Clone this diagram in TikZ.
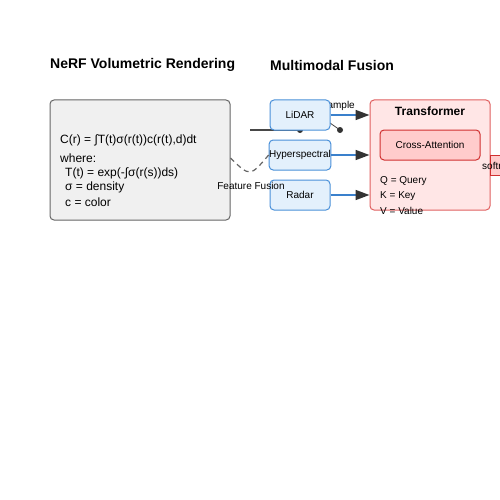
\documentclass[tikz,border=0pt]{standalone}
\usepackage{fontspec}
\setmainfont{Liberation Sans}
\usetikzlibrary{arrows.meta}
\definecolor{nerffill}{HTML}{F0F0F0}
\definecolor{nerfdraw}{HTML}{666666}
\definecolor{modfill}{HTML}{E3F0FC}
\definecolor{moddraw}{HTML}{4A90D9}
\definecolor{arrline}{HTML}{3A80CC}
\definecolor{tipcol}{HTML}{333333}
\definecolor{trfill}{HTML}{FFE6E6}
\definecolor{trdraw}{HTML}{E06060}
\definecolor{cafill}{HTML}{FFCCCC}
\definecolor{cadraw}{HTML}{D03030}
\tikzset{
  px/.style={x=1pt,y=-1pt},
  modbox/.style={draw=moddraw,fill=modfill,line width=1pt,rounded corners=4pt,minimum width=60pt,minimum height=30pt,inner sep=0pt,font=\fontsize{10}{12}\selectfont},
  flow/.style={draw=arrline,line width=1.6pt,-{Triangle[length=14pt,width=10pt,color=tipcol,fill=tipcol]}},
  lbl/.style={font=\fontsize{10}{12}\selectfont,inner sep=0pt},
  body/.style={font=\fontsize{12}{14}\selectfont,inner sep=0pt,anchor=west},
  small/.style={font=\fontsize{10}{12}\selectfont,inner sep=0pt,anchor=west},
  title/.style={font=\fontsize{14}{16}\selectfont\bfseries,inner sep=0pt,anchor=west},
}
\begin{document}
\begin{tikzpicture}[px]
\useasboundingbox (0,0) rectangle (500,500);
\fill[white] (0,0) rectangle (500,500);
% titles
\node[title] (t1) at (50,65) {NeRF Volumetric Rendering};
\node[title] (t2) at (270,65) {Multimodal Fusion};
% NeRF box
\node[draw=nerfdraw,fill=nerffill,line width=1pt,rounded corners=4pt,minimum width=180pt,minimum height=120pt,inner sep=0pt] (nerf) at (140,160) {};
\node[body] (l1) at (60,140) {C(r) = ∫T(t)σ(r(t))c(r(t),d)dt};
\node[body] (l2) at (60,158) {where:};
\node[body] (l3) at (65,173) {T(t) = exp(-∫σ(r(s))ds)};
\node[body] (l4) at (65,187) {σ = density};
\node[body] (l5) at (65,202) {c = color};
% sampling ray (behind LiDAR box)
\node[lbl,anchor=east] (samp) at (355,106) {Sample};
\coordinate (r0) at (250,130);
\coordinate (r1) at (300,130);
\coordinate (r2) at (330,123);
\coordinate (r3) at (340,130);
\draw[draw=tipcol!90,line width=1.5pt] (r0) -- (r1);
\draw[draw=tipcol!90,line width=0.8pt] (r2) -- (r3);
\fill[tipcol] (r1) circle (3pt);
\fill[tipcol] (r3) circle (3pt);
% modality boxes
\node[modbox] (lidar) at (300,115) {LiDAR};
\node[modbox] (hyper) at (300,155) {Hyperspectral};
\node[modbox] (radar) at (300,195) {Radar};
% transformer
\node[draw=trdraw,fill=trfill,line width=1pt,rounded corners=4pt,minimum width=120pt,minimum height=110pt,inner sep=0pt] (tr) at (430,155) {};
\node[font=\fontsize{12}{14}\selectfont\bfseries,inner sep=0pt] (trt) at (430,111) {Transformer};
\node[draw=cadraw,fill=cafill,line width=1pt,rounded corners=4pt,minimum width=100pt,minimum height=30pt,inner sep=0pt,font=\fontsize{10}{12}\selectfont] (ca) at (430,145) {Cross-Attention};
\node[small] (q) at (380,181) {Q = Query};
\node[small] (k) at (380,196) {K = Key};
\node[small] (v) at (380,211) {V = Value};
% softmax
\node[draw=cadraw,fill=cafill,line width=1pt,minimum width=30pt,minimum height=20pt,inner sep=0pt,anchor=west] (smbox) at (490,165) {};
\node[lbl,anchor=west] (sm) at (482,166) {softmax};
% arrows
\draw[flow] (lidar.east) -- (lidar.east -| tr.west);
\draw[flow] (hyper.east) -- (hyper.east -| tr.west);
\draw[flow] (radar.east) -- (radar.east -| tr.west);
% feature fusion
\draw[draw=nerfdraw,line width=1.2pt,dash pattern=on 5pt off 4pt] (nerf.east |- 0,158) .. controls (250,177) .. (hyper.west);
\node[lbl] (ff) at (251,186) {Feature Fusion};
\end{tikzpicture}
\end{document}
